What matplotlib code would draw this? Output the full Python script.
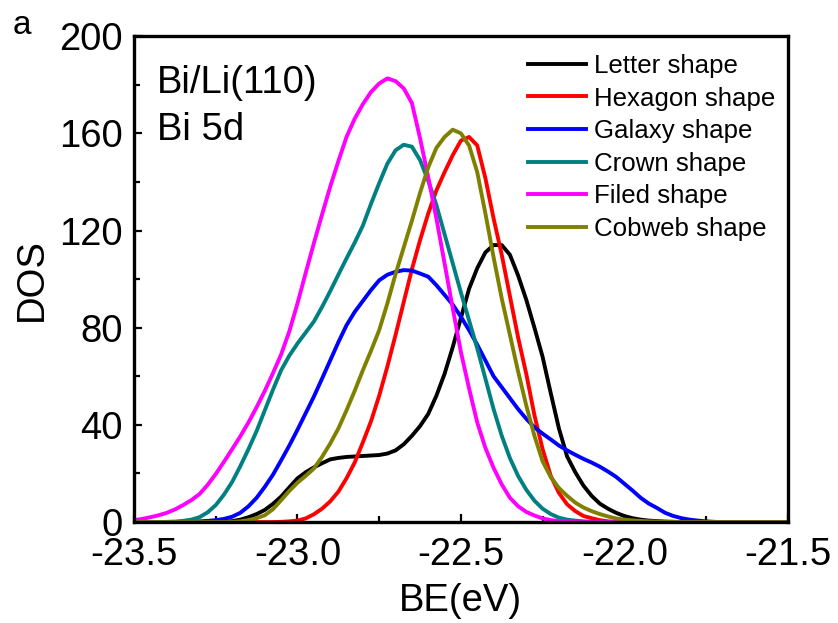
import matplotlib
matplotlib.use('Agg')
import matplotlib.pyplot as plt
from matplotlib.ticker import MultipleLocator

plt.rcParams['font.family'] = ['Liberation Sans', 'DejaVu Sans']
plt.rcParams['axes.unicode_minus'] = False

be = [-23.500, -23.475, -23.450, -23.425, -23.400, -23.375, -23.350, -23.325, -23.300, -23.275,
      -23.250, -23.225, -23.200, -23.175, -23.150, -23.125, -23.100, -23.075, -23.050, -23.025,
      -23.000, -22.975, -22.950, -22.925, -22.900, -22.875, -22.850, -22.825, -22.800, -22.775,
      -22.750, -22.725, -22.700, -22.675, -22.650, -22.625, -22.600, -22.575, -22.550, -22.525,
      -22.500, -22.475, -22.450, -22.425, -22.400, -22.375, -22.350, -22.325, -22.300, -22.275,
      -22.250, -22.225, -22.200, -22.175, -22.150, -22.125, -22.100, -22.075, -22.050, -22.025,
      -22.000, -21.975, -21.950, -21.925, -21.900, -21.875, -21.850, -21.825, -21.800, -21.775,
      -21.750, -21.725, -21.700, -21.675, -21.650, -21.625, -21.600, -21.575, -21.550, -21.525,
      -21.500]

letter = [0, 0, 0, 0, 0, 0, 0, 0, 0, 0,
          0, 0.1, 0.4, 1.0, 2, 3.3, 5, 7.5, 10.5, 14.3,
          18, 20.5, 22.5, 24.2, 25.8, 26.4, 26.8, 27.0, 27.2, 27.4,
          27.6, 28.2, 29.5, 32, 35.5, 39.5, 44.5, 52, 61, 72,
          84, 96, 104.5, 111, 114, 114, 110, 101.5, 91.5, 80,
          68, 53, 38.5, 27, 20.5, 15, 10.8, 7.6, 5.5, 3.8,
          2.5, 1.6, 1.0, 0.6, 0.4, 0.2, 0.1, 0, 0, 0,
          0, 0, 0, 0, 0, 0, 0, 0, 0, 0,
          0]
hexagon = [0, 0, 0, 0, 0, 0, 0, 0, 0, 0,
           0, 0, 0, 0, 0, 0, 0, 0, 0.1, 0.3,
           0.6, 1.5, 3.2, 5.5, 8.5, 12.5, 18, 24.5, 32.8, 41.5,
           52, 64, 77, 90.5, 104, 116, 127, 136.5, 144, 151,
           157, 158.5, 155, 141.5, 125, 110, 93, 76, 61, 44,
           30, 19, 12, 7.3, 4.5, 2.5, 1.6, 0.8, 0.3, 0.1,
           0, 0, 0, 0, 0, 0, 0, 0, 0, 0,
           0, 0, 0, 0, 0, 0, 0, 0, 0, 0,
           0]
galaxy = [0, 0, 0, 0, 0, 0, 0.1, 0.2, 0.3, 0.5,
          0.8, 1.3, 2.2, 3.8, 6.5, 10, 14.5, 19.5, 25.4, 31.5,
          38, 44.8, 51.6, 59, 66.5, 74, 81, 86.5, 91, 95.5,
          99.5, 101.8, 103, 103.7, 103.5, 102.3, 101, 97.5, 93.5, 89.5,
          84.5, 79, 73, 66.5, 60, 55.5, 51, 46.5, 42.5, 39,
          36.4, 34, 31.5, 29.5, 27.7, 26, 24.5, 22.8, 20.8, 18.6,
          15.8, 13, 10, 7.6, 5.8, 3.8, 2.5, 1.6, 1.0, 0.6,
          0.3, 0.1, 0, 0, 0, 0, 0, 0, 0, 0,
          0]
crown = [0, 0, 0, 0, 0.1, 0.2, 0.5, 1.0, 2.0, 4.0,
         7, 11.3, 16.5, 23, 30, 37.5, 46, 54.5, 62.5, 68.5,
         73.5, 78, 82.5, 88.5, 95, 101.8, 108.5, 115, 122, 131,
         139.5, 147.5, 153, 155.3, 154.5, 149, 140.5, 130.5, 118.5, 106.5,
         94.5, 83, 71.5, 59, 46.5, 35.5, 26.3, 19, 13.3, 8.8,
         5.5, 3.3, 1.8, 1.0, 0.6, 0.3, 0.1, 0, 0, 0,
         0, 0, 0, 0, 0, 0, 0, 0, 0, 0,
         0, 0, 0, 0, 0, 0, 0, 0, 0, 0,
         0]
filed = [0.8, 1.3, 2.0, 2.8, 3.8, 5.2, 7.0, 9.0, 11.5, 15.3,
         19.8, 24.8, 30, 35.3, 41, 47.3, 54, 61.3, 69, 78.5,
         90, 102.5, 114.7, 126.5, 138, 148.5, 158.5, 166, 172, 177,
         180.5, 182.6, 181.5, 178.5, 172.5, 158, 142, 125, 106.5, 88,
         70, 55, 41, 30.5, 22.3, 15.5, 10, 6.5, 4.2, 2.7,
         1.5, 0.8, 0.4, 0.2, 0.1, 0, 0, 0, 0, 0,
         0, 0, 0, 0, 0, 0, 0, 0, 0, 0,
         0, 0, 0, 0, 0, 0, 0, 0, 0, 0,
         0]
cobweb = [0, 0, 0, 0, 0, 0, 0, 0, 0, 0,
          0, 0, 0.1, 0.3, 0.8, 1.6, 2.8, 5.3, 9.0, 12.8,
          16.2, 19, 22, 26.8, 32.3, 38.5, 46, 54, 62.5, 70.5,
          79, 90, 102, 113, 124, 135.5, 146, 154, 158.5, 161.5,
          160, 155, 144, 127, 109, 92, 77, 62, 48, 35.5,
          25, 18.5, 14, 10.8, 8, 6, 4.5, 3.3, 2.3, 1.5,
          1.0, 0.7, 0.5, 0.3, 0.2, 0.1, 0.1, 0, 0, 0,
          0, 0, 0, 0, 0, 0, 0, 0, 0, 0,
          0]

series = [('Letter shape', letter, 'black'),
          ('Hexagon shape', hexagon, '#ff0000'),
          ('Galaxy shape', galaxy, '#0000ff'),
          ('Crown shape', crown, '#008080'),
          ('Filed shape', filed, '#ff00ff'),
          ('Cobweb shape', cobweb, '#808000')]

fig = plt.figure(figsize=(8.38, 6.23), dpi=100)
ax = fig.add_axes([0.160, 0.162, 0.780, 0.780])

for name, vals, col in series:
    ax.plot(be, vals, color=col, lw=2.8, label=name)

ax.set_xlim(-23.5, -21.5)
ax.set_ylim(0, 200)
ax.xaxis.set_major_locator(MultipleLocator(0.5))
ax.xaxis.set_minor_locator(MultipleLocator(0.25))
ax.yaxis.set_major_locator(MultipleLocator(40))
ax.yaxis.set_minor_locator(MultipleLocator(20))
ax.tick_params(which='both', direction='in', top=False, right=False,
               labelsize=27.5, width=1.6)
ax.tick_params(which='major', length=6)
ax.tick_params(which='minor', length=4)
ax.tick_params(axis='x', which='major', pad=11)
ax.tick_params(axis='y', which='major', pad=8)
for s in ax.spines.values():
    s.set_linewidth(2.4)

ax.set_xlabel('BE(eV)', fontsize=27.5, labelpad=7)
ax.set_ylabel('DOS', fontsize=27.5, labelpad=7)

ax.legend(loc='upper left', bbox_to_anchor=(528 / 838, 1 - 54 / 623),
          bbox_transform=fig.transFigure, frameon=False, fontsize=18.6,
          borderpad=0, borderaxespad=0, handlelength=2.25,
          handletextpad=0.3, labelspacing=0.33)

fig.text(157 / 838, 1 - 93 / 623, 'Bi/Li(110)', fontsize=27.5, va='baseline')
fig.text(157 / 838, 1 - 140 / 623, 'Bi 5d', fontsize=27.5, va='baseline')
fig.text(13 / 838, 1 - 34 / 623, 'a', fontsize=24, va='baseline')

fig.savefig('out.png', dpi=100)
